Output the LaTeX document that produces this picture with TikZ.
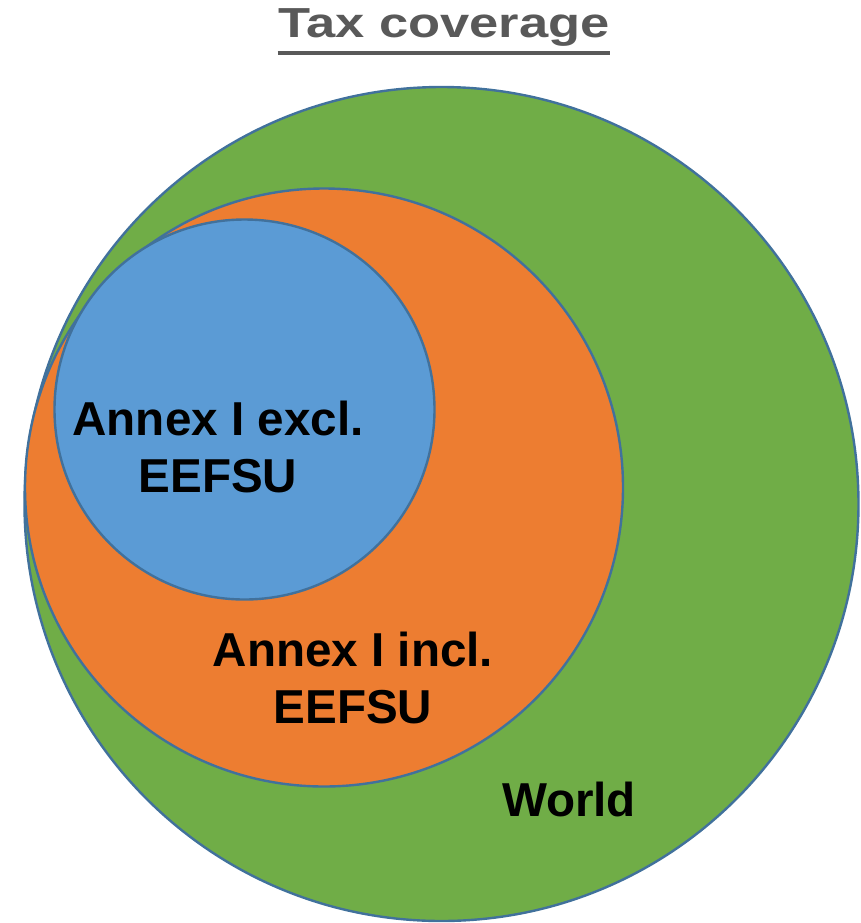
\documentclass[tikz,border=0pt]{standalone}
\usepackage{fontspec}
\setmainfont{Liberation Sans}
\usepackage{graphicx}
\definecolor{worldgreen}{HTML}{70AD47}
\definecolor{inclorange}{HTML}{ED7D31}
\definecolor{exclblue}{HTML}{5B9BD5}
\definecolor{rimblue}{HTML}{41719C}
\definecolor{titlegray}{HTML}{595959}

\begin{document}
\begin{tikzpicture}[x=0.5pt,y=-0.5pt,
        region/.style={circle,draw=rimblue,line width=1.2pt,inner sep=0pt},
        tag/.style={font=\fontsize{23.8}{28.5}\selectfont\bfseries,align=center,anchor=base,inner sep=0pt}]
        \useasboundingbox (0,0) rectangle (861,923);
        \node [region,fill=worldgreen,minimum size=417pt] (world) at (441.5,504) {};
        \node [region,fill=inclorange,minimum size=299pt] (incl) at (324,487.5) {};
        \node [region,fill=exclblue,minimum size=190pt] (excl) at (244.5,409.5) {};
        \node [tag] (excltext) at (218,492) {Annex I excl.\\EEFSU};
        \node [tag] (incltext) at (353,723) {Annex I incl.\\EEFSU};
        \node [tag] (worldtext) at (569,816) {World};
        \node [font=\fontsize{21}{25}\selectfont\bfseries,text=titlegray,anchor=base,inner sep=0pt] (title) at (444,37) {\scalebox{1.25}[1]{Tax coverage}};
        \draw [titlegray,line width=2pt] ([yshift=-8pt]title.base west) -- ([yshift=-8pt]title.base east);
\end{tikzpicture}
\end{document}
